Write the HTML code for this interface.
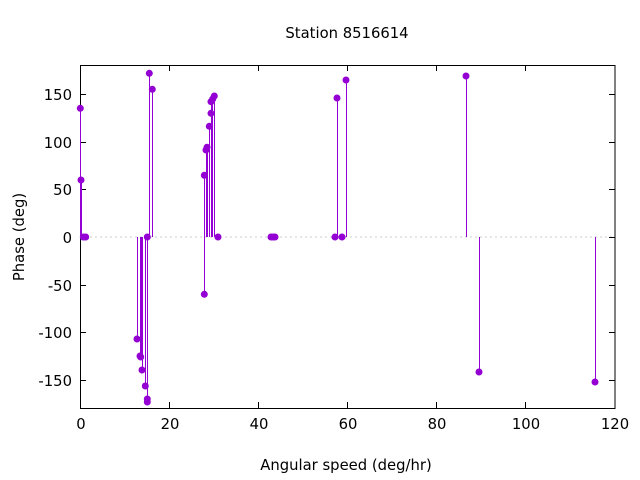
<!DOCTYPE html>
<html><head><meta charset="utf-8"><style>body{margin:0;background:#fff}svg{display:block}text{font-family:"DejaVu Sans","Liberation Sans",sans-serif;font-size:14.8px;fill:#000}</style></head>
<body>
<svg width="640" height="480" xmlns="http://www.w3.org/2000/svg">
<rect width="640" height="480" fill="#fff"/>
<line x1="80.5" y1="237" x2="615" y2="237" stroke="#999" stroke-width="1" stroke-dasharray="1,4"/>
<g stroke="#000" stroke-width="1">
<rect x="80.5" y="65.5" width="534.5" height="343" fill="none"/>
<path d="M169.5 408v-6M169.5 65v6M258.5 408v-6M258.5 65v6M347.5 408v-6M347.5 65v6M436.5 408v-6M436.5 65v6M525.5 408v-6M525.5 65v6
M80 94.5h6M615 94.5h-6M80 142.5h6M615 142.5h-6M80 189.5h6M615 189.5h-6M80 237.5h6M615 237.5h-6M80 285.5h6M615 285.5h-6M80 332.5h6M615 332.5h-6M80 380.5h6M615 380.5h-6"/>
</g>
<g text-anchor="middle">
<text x="81" y="429">0</text><text x="170" y="429">20</text><text x="259" y="429">40</text><text x="348" y="429">60</text><text x="437" y="429">80</text><text x="526" y="429">100</text><text x="615" y="429">120</text>
<text x="346" y="470">Angular speed (deg/hr)</text>
<text x="347" y="38">Station 8516614</text>
</g>
<g text-anchor="end">
<text x="72" y="100">150</text><text x="72" y="148">100</text><text x="72" y="195">50</text><text x="72" y="243">0</text><text x="72" y="291">-50</text><text x="72" y="338">-100</text><text x="72" y="386">-150</text>
</g>
<text transform="translate(24,237) rotate(-90)" text-anchor="middle">Phase (deg)</text>
<g stroke="#9400d3" stroke-width="1">
<path d="M80.5 237V108M81.5 237V180M137.5 237V339M140.5 237V357M141.5 237V357M142.5 237V370M145.5 237V386M147.5 237V402M149.5 237V73M152.5 237V89M204.5 237V175M204.5 237V294M206.5 237V150M207.5 237V147M209.5 237V126M211.5 237V101M212.5 237V99M214.5 237V96M337.5 237V98M346.5 237V80M466.5 237V76M479.5 237V372M595.5 237V382"/>
</g>
<g fill="#9400d3">
<circle cx="80.3" cy="108.3" r="3.5"/><circle cx="81" cy="180" r="3.5"/><circle cx="83.3" cy="237" r="3.5"/><circle cx="85.7" cy="237" r="3.5"/>
<circle cx="137" cy="339" r="3.5"/><circle cx="140" cy="356" r="3.5"/><circle cx="140.7" cy="357" r="3.5"/><circle cx="142" cy="370" r="3.5"/><circle cx="145.3" cy="386" r="3.5"/><circle cx="147.3" cy="399" r="3.5"/><circle cx="147.3" cy="402" r="3.5"/>
<circle cx="147.3" cy="237" r="3.5"/><circle cx="149.3" cy="73.3" r="3.5"/><circle cx="152.3" cy="89.3" r="3.5"/>
<circle cx="204.3" cy="175.3" r="3.5"/><circle cx="204.3" cy="294.3" r="3.5"/><circle cx="206" cy="150" r="3.5"/><circle cx="207" cy="147.3" r="3.5"/><circle cx="209.3" cy="126.3" r="3.5"/><circle cx="211" cy="113.3" r="3.5"/><circle cx="211" cy="101.7" r="3.5"/><circle cx="212.7" cy="99" r="3.5"/><circle cx="214.3" cy="96" r="3.5"/><circle cx="218" cy="237" r="3.5"/>
<circle cx="271" cy="237" r="3.5"/><circle cx="273" cy="237" r="3.5"/><circle cx="275" cy="237" r="3.5"/>
<circle cx="335" cy="237" r="3.5"/><circle cx="337" cy="98" r="3.5"/><circle cx="342" cy="237" r="3.5"/><circle cx="346" cy="80" r="3.5"/>
<circle cx="466" cy="76" r="3.5"/><circle cx="479" cy="372" r="3.5"/><circle cx="595" cy="382" r="3.5"/>
</g>
</svg>
</body></html>
